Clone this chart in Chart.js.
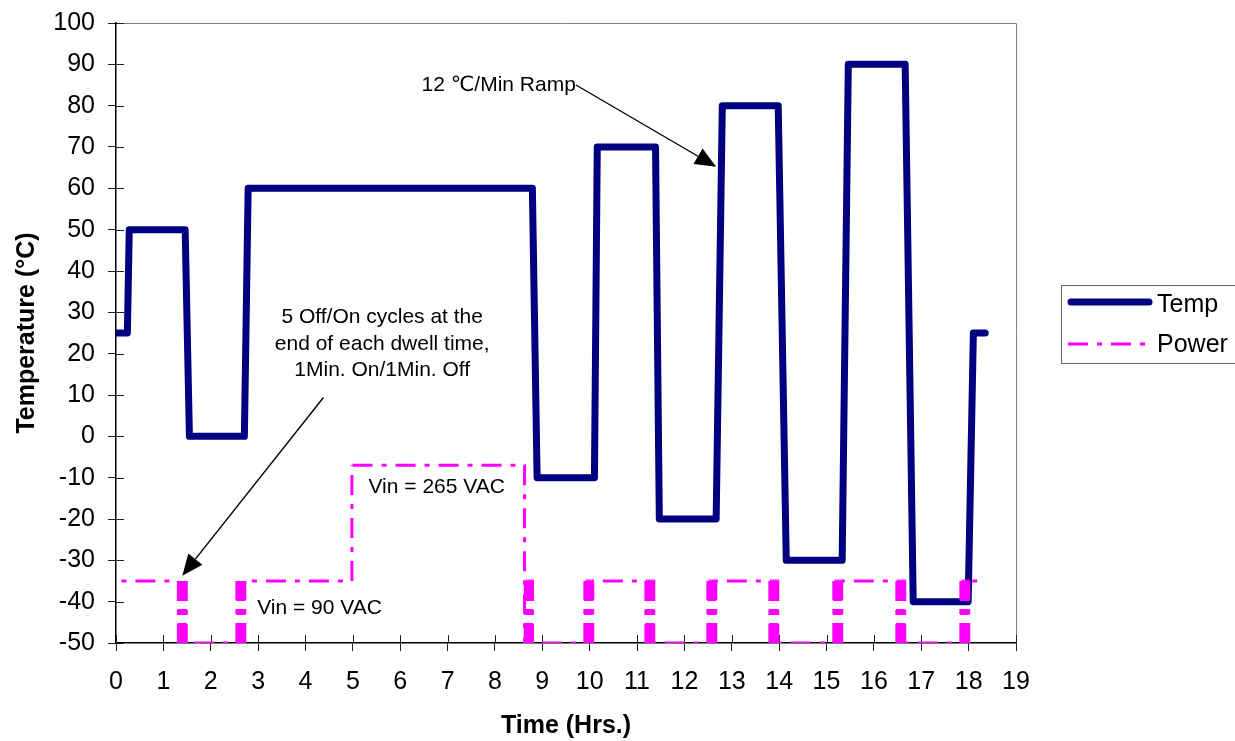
<!DOCTYPE html>
<html>
<head>
<meta charset="utf-8">
<script src="https://cdn.jsdelivr.net/npm/chart.js@4.4.1/dist/chart.umd.min.js"></script>
<style>
  html, body { margin: 0; padding: 0; background: #fff; }
  #wrap { width: 1235px; height: 741px; }
</style>
</head>
<body>
<div id="wrap"><canvas id="chart" width="1235" height="741"></canvas></div>
<script>
const FONT = "'Liberation Sans', Arial, Helvetica, 'DejaVu Sans', sans-serif";

// temperature profile: time (hrs) and chamber temperature (°C)
const tempHours = [0, 0.24, 0.28, 1.46, 1.55, 2.71, 2.79, 8.79, 8.89, 10.10, 10.16, 11.39,
  11.47, 12.67, 12.80, 13.98, 14.15, 15.33, 15.46, 16.66, 16.83, 17.99, 18.10, 18.35];
const tempValues = [25, 25, 50, 50, 0, 0, 60, 60, -10, -10, 70, 70,
  -20, -20, 80, 80, -30, -30, 90, 90, -40, -40, 25, 25];

// power trace: switch times (hrs) and the level after each switch
// (-35 = 90 VAC on, -7 = 265 VAC on, -50 = off)
const powerHours = [
  0,
  1.317, 1.334, 1.350, 1.367, 1.384, 1.400, 1.417, 1.434, 1.450, 1.467, 1.484,
  2.552, 2.569, 2.585, 2.602, 2.619, 2.635, 2.652, 2.669, 2.685, 2.702, 2.719,
  4.980,
  8.625, 8.642, 8.658, 8.675, 8.692, 8.708, 8.725, 8.742, 8.758, 8.775, 8.792,
  9.898, 9.915, 9.931, 9.948, 9.965, 9.981, 9.998, 10.015, 10.031, 10.048, 10.065,
  11.186, 11.203, 11.219, 11.236, 11.253, 11.269, 11.286, 11.303, 11.319, 11.336, 11.353,
  12.495, 12.512, 12.528, 12.545, 12.562, 12.578, 12.595, 12.612, 12.628, 12.645, 12.662,
  13.804, 13.821, 13.837, 13.854, 13.871, 13.887, 13.904, 13.921, 13.937, 13.954, 13.971,
  15.154, 15.171, 15.187, 15.204, 15.221, 15.237, 15.254, 15.271, 15.287, 15.304, 15.321,
  16.484, 16.501, 16.517, 16.534, 16.551, 16.567, 16.584, 16.601, 16.617, 16.634, 16.651,
  17.836, 17.853, 17.869, 17.886, 17.903, 17.919, 17.936, 17.953, 17.969, 17.986, 18.003,
  18.37
];
const powerLevels = [
  -35,
  -50, -35, -50, -35, -50, -35, -50, -35, -50, -35, -50,
  -35, -50, -35, -50, -35, -50, -35, -50, -35, -50, -35,
  -7,
  -50, -35, -50, -35, -50, -35, -50, -35, -50, -35, -50,
  -35, -50, -35, -50, -35, -50, -35, -50, -35, -50, -35,
  -50, -35, -50, -35, -50, -35, -50, -35, -50, -35, -50,
  -35, -50, -35, -50, -35, -50, -35, -50, -35, -50, -35,
  -50, -35, -50, -35, -50, -35, -50, -35, -50, -35, -50,
  -35, -50, -35, -50, -35, -50, -35, -50, -35, -50, -35,
  -50, -35, -50, -35, -50, -35, -50, -35, -50, -35, -50,
  -35, -50, -35, -50, -35, -50, -35, -50, -35, -50, -35,
  -35
];

const seriesNames = ['Temp', 'Power'];
const xRange = [0, 19];
const yRange = [-50, 100];

const POWER_DASH = [20, 9, 5, 9];
const DASH_PERIOD = POWER_DASH.reduce((a, b) => a + b, 0);

function arrow(ctx, x1, y1, x2, y2) {
  const ang = Math.atan2(y2 - y1, x2 - x1);
  const len = 21, half = 9;
  const bx = x2 - len * Math.cos(ang), by = y2 - len * Math.sin(ang);
  ctx.beginPath();
  ctx.moveTo(x1, y1);
  ctx.lineTo(bx, by);
  ctx.stroke();
  ctx.beginPath();
  ctx.moveTo(x2, y2);
  ctx.lineTo(bx + half * Math.sin(ang), by - half * Math.cos(ang));
  ctx.lineTo(bx - half * Math.sin(ang), by + half * Math.cos(ang));
  ctx.closePath();
  ctx.fill();
}

const frame = {
  id: 'frame',
  beforeDatasetsDraw(chart) {
    const { ctx, chartArea: a, scales: { x, y } } = chart;
    ctx.save();
    ctx.strokeStyle = '#808080';
    ctx.lineWidth = 1;
    ctx.beginPath();
    ctx.moveTo(a.left, a.top + 0.5);
    ctx.lineTo(a.right + 0.5, a.top + 0.5);
    ctx.lineTo(a.right + 0.5, a.bottom);
    ctx.stroke();
    // tick marks cross the axis, so add the inner half
    ctx.strokeStyle = '#222';
    ctx.beginPath();
    y.ticks.forEach((t) => {
      const py = Math.round(y.getPixelForValue(t.value)) + 0.5;
      ctx.moveTo(a.left, py);
      ctx.lineTo(a.left + 8, py);
    });
    x.ticks.forEach((t) => {
      const px = Math.round(x.getPixelForValue(t.value)) + 0.5;
      ctx.moveTo(px, a.bottom);
      ctx.lineTo(px, a.bottom - 8);
    });
    ctx.stroke();
    ctx.restore();
  },
  afterDraw(chart) {
    const { ctx, scales: { x, y } } = chart;
    const X = (v) => x.getPixelForValue(v);
    const Y = (v) => y.getPixelForValue(v);
    ctx.save();
    ctx.fillStyle = '#000';
    ctx.strokeStyle = '#000';
    ctx.lineWidth = 1.4;
    ctx.font = `21px ${FONT}`;
    ctx.textBaseline = 'middle';

    ctx.textAlign = 'left';
    ctx.fillText('12 \u2103/Min Ramp', X(6.45), Y(85));
    arrow(ctx, X(9.71), Y(85), X(12.67), Y(65.2));

    ctx.textAlign = 'center';
    const cx = X(5.62), cy = Y(28.8);
    ctx.fillText('5 Off/On cycles at the', cx, cy);
    ctx.fillText('end of each dwell time,', cx, cy + 27);
    ctx.fillText('1Min. On/1Min. Off', cx, cy + 53);
    arrow(ctx, X(4.38), Y(9.4), X(1.40), Y(-33.7));

    ctx.textAlign = 'left';
    ctx.fillText('Vin = 265 VAC', X(5.33), Y(-12.4));
    ctx.fillText('Vin = 90 VAC', X(2.98), Y(-41.7));

    // legend box
    const ds = chart.data.datasets;
    ctx.strokeStyle = '#666';
    ctx.lineWidth = 1;
    ctx.strokeRect(1061.5, 285.5, 200, 78);
    ctx.font = `25px ${FONT}`;
    ctx.textAlign = 'left';

    ctx.strokeStyle = ds[0].borderColor;
    ctx.lineWidth = ds[0].borderWidth;
    ctx.lineCap = 'round';
    ctx.beginPath();
    ctx.moveTo(1071, 302);
    ctx.lineTo(1149, 302);
    ctx.stroke();
    ctx.fillText(ds[0].label, 1157, 305);

    ctx.strokeStyle = ds[1].borderColor;
    ctx.lineWidth = ds[1].borderWidth;
    ctx.lineCap = 'butt';
    ctx.setLineDash(ds[1].borderDash);
    ctx.beginPath();
    ctx.moveTo(1068, 344);
    ctx.lineTo(1146, 344);
    ctx.stroke();
    ctx.setLineDash([]);
    ctx.fillText(ds[1].label, 1157, 345);
    ctx.restore();
  }
};

const tickFont = { family: FONT, size: 25 };
const titleFont = { family: FONT, size: 25, weight: 'bold' };

new Chart(document.getElementById('chart'), {
  type: 'line',
  data: {
    datasets: [
      {
        label: seriesNames[0],
        data: tempHours.map((h, i) => ({ x: h, y: tempValues[i] })),
        borderColor: '#000080',
        borderWidth: 7,
        borderJoinStyle: 'round',
        borderCapStyle: 'round',
        pointRadius: 0,
        tension: 0,
        order: 1,
      },
      {
        label: seriesNames[1],
        data: powerHours.map((h, i) => ({ x: h, y: powerLevels[i] })),
        borderColor: '#ff00ff',
        borderWidth: 3,
        borderDash: POWER_DASH,
        stepped: true,
        pointRadius: 0,
        order: 0,
        // restart the dash at every switch, so each vertical stroke begins with a dash
        segment: {
          borderDashOffset: (c) => {
            const run = Math.abs(c.p1.x - c.p0.x);
            return ((DASH_PERIOD - (run % DASH_PERIOD)) % DASH_PERIOD) + (c.p0DataIndex % 2) * 0.001;
          },
        },
      },
    ],
  },
  options: {
    responsive: false,
    animation: false,
    devicePixelRatio: 1,
    layout: { padding: { top: 23, right: 219, left: 0, bottom: 0 } },
    plugins: { legend: { display: false }, tooltip: { enabled: false } },
    scales: {
      x: {
        type: 'linear',
        min: xRange[0],
        max: xRange[1],
        ticks: { stepSize: 1, color: '#000', font: tickFont, padding: 16, maxRotation: 0, autoSkip: false },
        grid: { drawOnChartArea: false, tickLength: 8, tickColor: '#222', tickWidth: 1 },
        border: { color: '#000', width: 1.5 },
        title: { display: true, text: 'Time (Hrs.)', color: '#000', font: titleFont, padding: { top: 0, bottom: 0 } },
        afterFit: (s) => { s.height = 98; s.paddingLeft = 0; s.paddingRight = 0; },
      },
      y: {
        type: 'linear',
        min: yRange[0],
        max: yRange[1],
        ticks: { stepSize: 10, color: '#000', font: tickFont, padding: 13, autoSkip: false },
        grid: { drawOnChartArea: false, tickLength: 8, tickColor: '#222', tickWidth: 1 },
        border: { color: '#000', width: 1.5 },
        title: { display: true, text: 'Temperature (°C)', color: '#000', font: titleFont, padding: { top: 12, bottom: 0 } },
        afterFit: (s) => { s.width = 116; s.paddingTop = 0; s.paddingBottom = 0; },
      },
    },
  },
  plugins: [frame],
});
</script>
</body>
</html>
